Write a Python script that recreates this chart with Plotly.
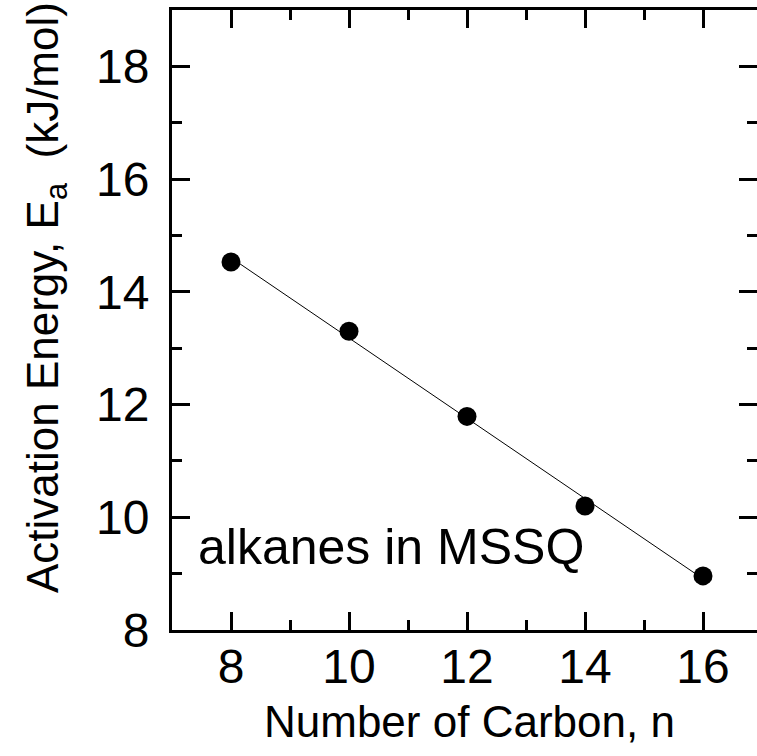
import numpy as np
import plotly.graph_objects as go

carbon_n = [8, 10, 12, 14, 16]
activation_energy = [14.53, 13.30, 11.79, 10.20, 8.96]
x_tick_vals = [8, 10, 12, 14, 16]
y_tick_vals = [8, 10, 12, 14, 16, 18]

slope, intercept = np.polyfit(carbon_n, activation_energy, 1)
fit_x = [min(carbon_n), max(carbon_n)]
fit_y = [slope * v + intercept for v in fit_x]

FONT = "Liberation Sans, Arial, sans-serif"
XR = [7, 16.915]
YR = [8, 19]
TICKFONT = 48
TITLEFONT = 44

fig = go.Figure()
fig.add_trace(go.Scatter(x=fit_x, y=fit_y, mode="lines",
                         line=dict(color="black", width=1), showlegend=False))
fig.add_trace(go.Scatter(x=carbon_n, y=activation_energy, mode="markers",
                         marker=dict(color="black", size=19), showlegend=False))
# invisible trace carrying the right-side ticks
fig.add_trace(go.Scatter(x=fit_x, y=fit_y, yaxis="y2", mode="lines",
                         line=dict(width=0), opacity=0, showlegend=False,
                         hoverinfo="skip"))

minor = dict(ticks="inside", ticklen=10, tickwidth=2.5, tickcolor="black",
             dtick=1, tick0=7, showgrid=False)
common = dict(ticks="inside", ticklen=18, tickwidth=2.5, tickcolor="black",
              showgrid=False, zeroline=False,
              tickfont=dict(family=FONT, size=TICKFONT, color="black"))

fig.update_layout(
    width=757, height=756,
    margin=dict(l=172, r=0, t=10, b=126),
    plot_bgcolor="white", paper_bgcolor="white",
    xaxis=dict(range=XR, tickvals=x_tick_vals, showline=True, linewidth=3,
               linecolor="black", mirror="ticks", minor=minor,
               ticklabelstandoff=-8, **common),
    yaxis=dict(range=YR, tickvals=y_tick_vals, showline=True, linewidth=3,
               linecolor="black", mirror=False, minor=minor,
               ticklabelstandoff=10, **common),
    yaxis2=dict(range=YR, tickvals=y_tick_vals, overlaying="y", side="right",
                showline=False, showticklabels=False, minor=minor,
                ticks="inside", ticklen=18, tickwidth=2.5, tickcolor="black",
                showgrid=False, zeroline=False),
    annotations=[
        dict(text="alkanes in MSSQ", x=7.4, y=9.47, xref="x", yref="y",
             xanchor="left", yanchor="middle", showarrow=False,
             font=dict(family=FONT, size=50, color="black")),
        dict(text="Number of Carbon, n", x=0.5077, y=-0.1476,
             xref="paper", yref="paper", xanchor="center", yanchor="middle",
             showarrow=False,
             font=dict(family=FONT, size=TITLEFONT, color="black")),
        dict(text="Activation Energy, E<sub>a</sub>  (kJ/mol)", x=-0.2154,
             y=0.537, xref="paper", yref="paper", xanchor="center",
             yanchor="middle", textangle=-90, showarrow=False,
             font=dict(family=FONT, size=TITLEFONT, color="black")),
    ],
)

fig.write_html("out.html")
